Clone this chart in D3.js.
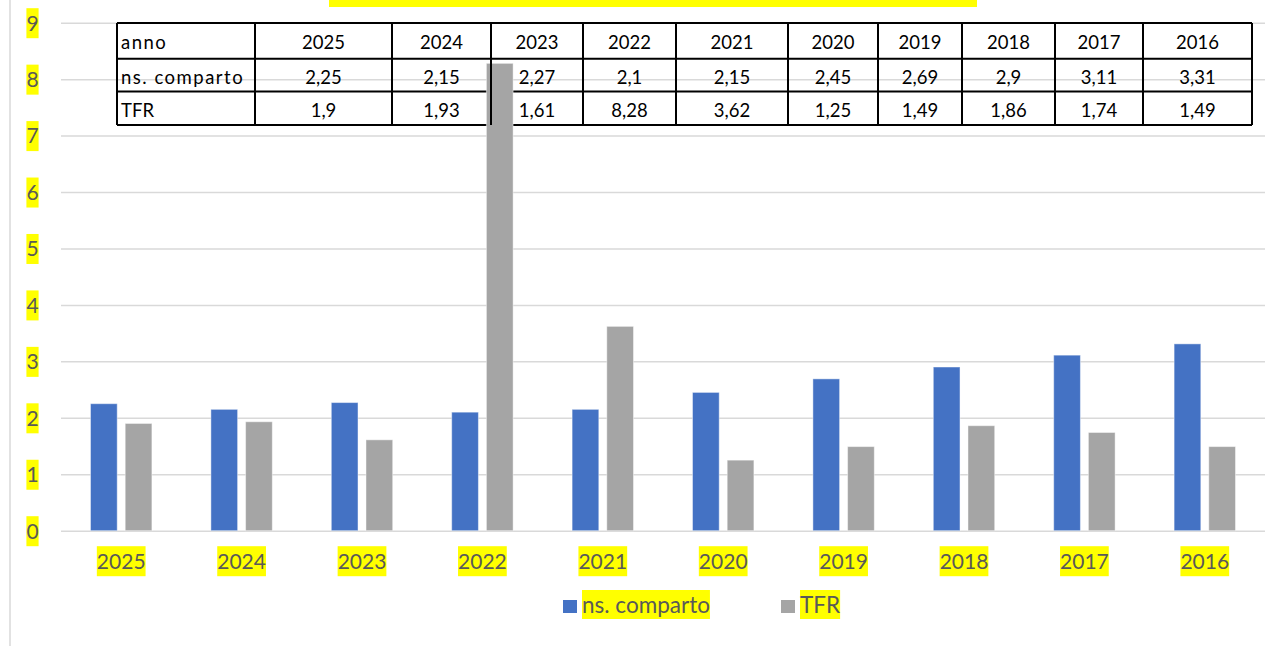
<!DOCTYPE html>
<html>
<head>
<meta charset="utf-8">
<script src="https://cdn.jsdelivr.net/npm/d3@7"></script>
<style>
  body { margin: 0; background: #fff; }
  svg { display: block; font-family: Lato, "Liberation Sans", sans-serif; }
</style>
</head>
<body>
<svg width="1279" height="646"></svg>
<script>
// dati del grafico
const years = ["2025", "2024", "2023", "2022", "2021", "2020", "2019", "2018", "2017", "2016"];
const comparto = [2.25, 2.15, 2.27, 2.1, 2.15, 2.45, 2.69, 2.9, 3.11, 3.31];
const tfr = [1.9, 1.93, 1.61, 8.28, 3.62, 1.25, 1.49, 1.86, 1.74, 1.49];
const seriesNames = ["ns. comparto", "TFR"];
const yTicks = [0, 1, 2, 3, 4, 5, 6, 7, 8, 9];
const rowLabels = ["anno", "ns. comparto", "TFR"];

// layout della tabella (bordi colonne / righe)
const colEdges = [117, 255, 392, 491, 583, 676, 788, 878, 962, 1055, 1143, 1252];
const rowEdges = [23, 58.7, 91.5, 125];

const color = d3.scaleOrdinal().domain(seriesNames).range(["#4472C4", "#A5A5A5"]);
const svg = d3.select("svg");

const plotLeft = 61, plotRight = 1265, plotTop = 22.7, plotBottom = 530.7;

const x0 = d3.scaleBand().domain(years).range([plotLeft, plotRight]).paddingInner(0.49).paddingOuter(0.245);
const x1 = d3.scaleBand().domain(seriesNames).range([0, x0.bandwidth()]).paddingInner(0.23);
const y = d3.scaleLinear().domain([0, 9]).range([plotBottom, plotTop]);

const data = years.map((yr, i) => ({ year: yr, values: [comparto[i], tfr[i]] }));

// titolo tagliato in alto
svg.append("rect")
    .attr("x", 329).attr("y", -12)
    .attr("width", 648).attr("height", 19)
    .attr("fill", "#FFFF00");

// bordo sinistro dell'area grafico
svg.append("line")
    .attr("x1", 10).attr("x2", 10).attr("y1", 0).attr("y2", 646)
    .attr("stroke", "#d9d9d9").attr("stroke-width", 1.5);

// asse y + griglia
const yAxis = svg.append("g")
    .attr("transform", `translate(${plotLeft},0)`)
    .call(d3.axisLeft(y).tickValues(yTicks).tickSize(-(plotRight - plotLeft)).tickPadding(0));
yAxis.select(".domain").remove();
yAxis.selectAll(".tick line").attr("stroke", "#d9d9d9").attr("stroke-width", 1.5);
yAxis.selectAll(".tick text")
    .attr("x", -28.5)
    .attr("text-anchor", "middle")
    .attr("dy", "0.35em")
    .style("font-size", "21px")
    .style("font-family", "Lato")
    .attr("fill", "#595959");
yAxis.selectAll(".tick").each(function() {
    const t = d3.select(this).select("text");
    const b = t.node().getBBox();
    d3.select(this).insert("rect", "text")
        .attr("x", b.x).attr("y", -15)
        .attr("width", b.width).attr("height", 30)
        .attr("fill", "#FFFF00");
});

// linee orizzontali della tabella (sotto le barre)
const table = svg.append("g");
table.selectAll("line.h")
    .data(rowEdges)
    .enter().append("line")
    .attr("class", "h")
    .attr("x1", colEdges[0]).attr("x2", colEdges[colEdges.length - 1])
    .attr("y1", d => d).attr("y2", d => d)
    .attr("stroke", "#000").attr("stroke-width", 2);

// barre
const groups = svg.append("g")
    .selectAll("g")
    .data(data)
    .enter().append("g")
    .attr("transform", d => `translate(${x0(d.year)},0)`);

groups.selectAll("rect")
    .data(d => d.values.map((v, i) => ({ key: seriesNames[i], value: v })))
    .enter().append("rect")
    .attr("x", d => x1(d.key))
    .attr("y", d => y(d.value))
    .attr("width", x1.bandwidth())
    .attr("height", d => y(0) - y(d.value))
    .attr("fill", d => color(d.key))
    .attr("stroke", "rgba(255,255,255,0.45)")
    .attr("stroke-width", 1);

// linee verticali della tabella
svg.append("g").selectAll("line")
    .data(colEdges)
    .enter().append("line")
    .attr("x1", d => d).attr("x2", d => d)
    .attr("y1", rowEdges[0]).attr("y2", rowEdges[rowEdges.length - 1])
    .attr("stroke", "#000").attr("stroke-width", 2);

// testo della tabella
const fmt = v => String(v).replace(".", ",");
const rows = [years, comparto.map(fmt), tfr.map(fmt)];
const tText = svg.append("g").style("font-size", "18.5px").attr("fill", "#000");
rowLabels.forEach((lab, r) => {
    const cy = (rowEdges[r] + rowEdges[r + 1]) / 2 + 2;
    tText.append("text")
        .attr("x", colEdges[0] + 4)
        .attr("y", cy)
        .attr("dy", "0.35em")
        .style("letter-spacing", r < 2 ? "1.5px" : "0px")
        .text(lab);
    rows[r].forEach((v, c) => {
        tText.append("text")
            .attr("x", (colEdges[c + 1] + colEdges[c + 2]) / 2)
            .attr("y", cy)
            .attr("dy", "0.35em")
            .attr("text-anchor", "middle")
            .text(v);
    });
});

// asse x
const xAxis = svg.append("g")
    .attr("transform", `translate(0,${plotBottom})`)
    .call(d3.axisBottom(x0).tickSize(0).tickPadding(0));
xAxis.select(".domain").remove();
xAxis.selectAll(".tick text")
    .attr("y", 30.5)
    .attr("dy", "0.35em")
    .style("font-size", "21px")
    .style("font-family", "Lato")
    .attr("fill", "#595959");
xAxis.selectAll(".tick").each(function() {
    const b = d3.select(this).select("text").node().getBBox();
    d3.select(this).insert("rect", "text")
        .attr("x", b.x).attr("y", 15.5)
        .attr("width", b.width).attr("height", 30)
        .attr("fill", "#FFFF00");
});

// legenda
const legendX = [563, 781];
const legend = svg.selectAll(".legend")
    .data(seriesNames)
    .enter().append("g")
    .attr("class", "legend")
    .attr("transform", (d, i) => `translate(${legendX[i]},0)`);

legend.append("rect")
    .attr("x", 0).attr("y", 600)
    .attr("width", 14).attr("height", 13)
    .attr("fill", d => color(d));

legend.append("text")
    .attr("x", 19)
    .attr("y", 605)
    .attr("dy", "0.35em")
    .style("font-size", "22.5px")
    .attr("fill", "#595959")
    .text(d => d);

legend.each(function() {
    const b = d3.select(this).select("text").node().getBBox();
    d3.select(this).insert("rect", "text")
        .attr("x", b.x).attr("y", 590)
        .attr("width", b.width).attr("height", 29)
        .attr("fill", "#FFFF00");
});
</script>
</body>
</html>
